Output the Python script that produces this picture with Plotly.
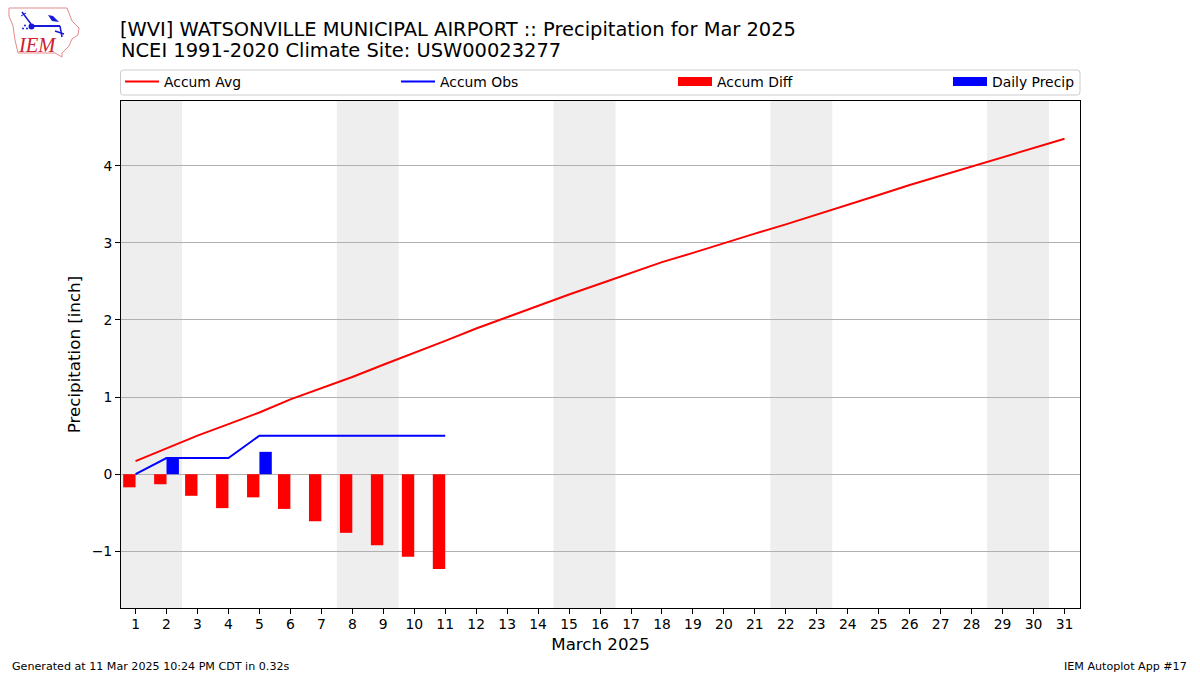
import plotly.graph_objects as go

days = list(range(1, 32))
obs_days = list(range(1, 12))
accum_avg = [0.17, 0.34, 0.50, 0.65, 0.80, 0.97, 1.11, 1.26, 1.42, 1.57, 1.73,
             1.89, 2.04, 2.19, 2.33, 2.47, 2.61, 2.75, 2.87, 3.00, 3.12, 3.24,
             3.37, 3.50, 3.62, 3.75, 3.87, 3.99, 4.11, 4.23, 4.35]
accum_obs = [0.0, 0.21, 0.21, 0.21, 0.50, 0.50, 0.50, 0.50, 0.50, 0.50, 0.50]
accum_diff = [-0.17, -0.13, -0.28, -0.44, -0.30, -0.45, -0.61, -0.76, -0.92, -1.07, -1.23]
daily_precip = [0.0, 0.21, 0.0, 0.0, 0.29, 0.0, 0.0, 0.0, 0.0, 0.0, 0.0]
weekends = [(0.5, 2.5), (7.5, 9.5), (14.5, 16.5), (21.5, 23.5), (28.5, 30.5)]
x_range = [0.53, 31.5]
y_range = [-1.735, 4.84]

W, H = 1200, 675
L, R, T, B = 121, 1080, 101, 608
FONT = "DejaVu Sans"
def px(x): return (x - L) / (R - L)
def py(y): return (B - y) / (B - T)
def path(points, close=False):
    s = "M " + " L ".join(f"{px(x):.5f},{py(y):.5f}" for x, y in points)
    return s + (" Z" if close else "")

fig = go.Figure()
fig.add_trace(go.Bar(x=obs_days, y=accum_diff, width=0.4, offset=-0.4, marker=dict(color="#ff0000", line_width=0),
                     showlegend=False, name="Accum Diff"))
fig.add_trace(go.Bar(x=obs_days, y=daily_precip, width=0.4, offset=0, marker=dict(color="#0000ff", line_width=0),
                     showlegend=False, name="Daily Precip"))
fig.add_trace(go.Scatter(x=days, y=accum_avg, mode="lines", name="Accum Avg", line=dict(color="#ff0000", width=2), legend="legend"))
fig.add_trace(go.Scatter(x=obs_days, y=accum_obs, mode="lines", name="Accum Obs", line=dict(color="#0000ff", width=2), legend="legend2"))
fig.add_trace(go.Scatter(x=[None], y=[None], mode="lines", name="Accum Diff", line=dict(color="#ff0000", width=9), legend="legend3"))
fig.add_trace(go.Scatter(x=[None], y=[None], mode="lines", name="Daily Precip", line=dict(color="#0000ff", width=9), legend="legend4"))

shapes = [dict(type="rect", xref="x", yref="paper", x0=a, x1=b, y0=0, y1=1,
               fillcolor="#eeeeee", line_width=0, layer="below") for a, b in weekends]
# legend frame
r = 3
lx0, lx1, ly0, ly1 = 120.5, 1080, 70, 95
shapes.append(dict(type="path", xref="paper", yref="paper",
    path=(f"M {px(lx0+r)},{py(ly0)} L {px(lx1-r)},{py(ly0)} Q {px(lx1)},{py(ly0)} {px(lx1)},{py(ly0+r)} "
          f"L {px(lx1)},{py(ly1-r)} Q {px(lx1)},{py(ly1)} {px(lx1-r)},{py(ly1)} "
          f"L {px(lx0+r)},{py(ly1)} Q {px(lx0)},{py(ly1)} {px(lx0)},{py(ly1-r)} "
          f"L {px(lx0)},{py(ly0+r)} Q {px(lx0)},{py(ly0)} {px(lx0+r)},{py(ly0)} Z"),
    line=dict(color="#cccccc", width=1), fillcolor="rgba(255,255,255,0.8)"))
# logo
iowa = [(9, 8), (67, 8), (72, 21), (79, 28), (78, 35), (72, 39), (69, 46), (62, 53), (62, 57),
        (55, 53), (18, 53), (15, 40), (13, 26), (9, 16)]
shapes.append(dict(type="path", xref="paper", yref="paper", path=path(iowa, True), line=dict(color="#e58a8a", width=1)))
logo_blue = "#1818d8"
for seg, w in [([(31, 26), (60, 26)], 2), ([(22, 12), (31, 24)], 1.5), ([(21, 16), (26, 13)], 1),
               ([(60, 26), (62, 37)], 1.5), ([(55, 31), (64, 34)], 1.5)]:
    shapes.append(dict(type="path", xref="paper", yref="paper", path=path(seg), line=dict(color=logo_blue, width=w)))
shapes.append(dict(type="path", xref="paper", yref="paper", path=path([(48, 15), (53, 16), (59, 22), (52, 21)], True),
                   fillcolor=logo_blue, line_width=0))
shapes.append(dict(type="circle", xref="paper", yref="paper", x0=px(28.5), x1=px(34.5), y0=py(29.5), y1=py(23.5),
                   fillcolor=logo_blue, line_width=0))
for cx, cy in [(25, 25.5), (23, 28.5), (27, 28.5)]:
    shapes.append(dict(type="circle", xref="paper", yref="paper", x0=px(cx - 1), x1=px(cx + 1), y0=py(cy + 1), y1=py(cy - 1),
                       fillcolor=logo_blue, line_width=0))

ann = dict(xref="paper", yref="paper", showarrow=False)
annotations = [
    dict(text="NCEI 1991-2020 Climate Site: USW00023277", x=px(118.5), y=py(51), xanchor="left", yanchor="middle",
         font=dict(size=19.44, color="black", family=FONT), **ann),
    dict(text="Generated at 11 Mar 2025 10:24 PM CDT in 0.32s", x=px(10), y=py(666), xanchor="left", yanchor="middle",
         font=dict(size=11.12, color="black", family=FONT), **ann),
    dict(text="IEM Autoplot App #17", x=px(1189), y=py(666), xanchor="right", yanchor="middle",
         font=dict(size=11.12, color="black", family=FONT), **ann),
    dict(text="<i>IEM</i>", x=px(37.5), y=py(45), xanchor="center", yanchor="middle",
         font=dict(size=20.5, color="#d02030", family="Liberation Serif"), **ann),
]

def leg(pxx):
    return dict(x=px(pxx), y=py(82), xanchor="left", yanchor="middle", orientation="h", bgcolor="rgba(0,0,0,0)",
                borderwidth=0, font=dict(size=13.9, color="black", family=FONT), itemwidth=34)

fig.update_layout(
    width=W, height=H, autosize=False, paper_bgcolor="white", plot_bgcolor="white",
    margin=dict(l=L, r=W - R, t=T, b=H - B, pad=0), barmode="overlay",
    font=dict(family=FONT, color="black", size=13.9),
    title=dict(text="[WVI] WATSONVILLE MUNICIPAL AIRPORT :: Precipitation for Mar 2025", x=120 / W, xanchor="left",
               y=1 - 29 / H, yanchor="middle", font=dict(size=19.44, color="black", family=FONT)),
    shapes=shapes, annotations=annotations,
    legend=leg(120), legend2=leg(396), legend3=leg(673), legend4=leg(948),
    xaxis=dict(range=x_range, tickmode="array", tickvals=days, ticktext=[str(d) for d in days], ticks="outside", ticklen=5,
               tickcolor="black", showgrid=False, zeroline=False, showline=True, mirror=True, linecolor="black", linewidth=1,
               ticklabelstandoff=-2,
               title=dict(text="March 2025", font=dict(size=16.67, family=FONT), standoff=7)),
    yaxis=dict(range=y_range, tickmode="array", tickvals=[-1, 0, 1, 2, 3, 4], ticks="outside", ticklen=5, tickcolor="black",
               showgrid=True, gridcolor="#b0b0b0", gridwidth=1, zeroline=False, showline=True, mirror=True, linecolor="black",
               linewidth=1, title=dict(text="Precipitation [inch]", font=dict(size=16.67, family=FONT), standoff=6)),
)
fig.write_html("out.html", config=dict(displayModeBar=False),
               post_script="document.body.style.margin='0';document.documentElement.style.overflow='hidden';")
